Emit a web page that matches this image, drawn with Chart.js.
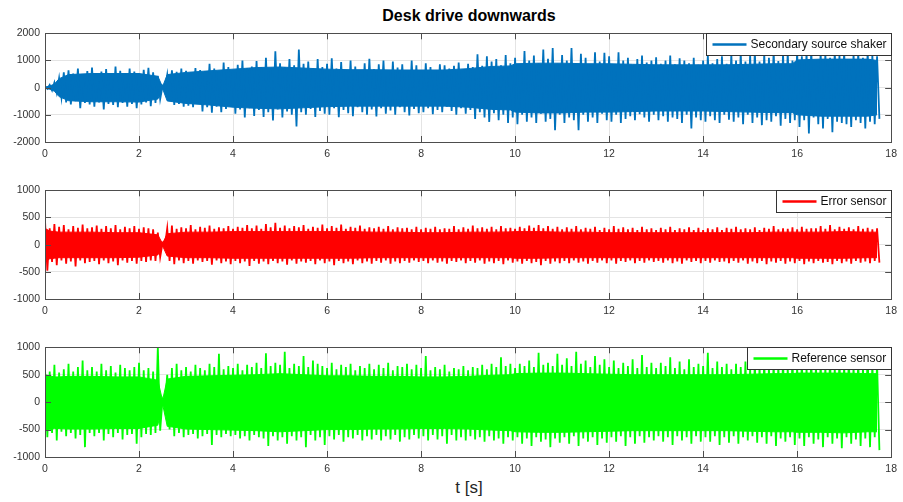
<!DOCTYPE html>
<html>
<head>
<meta charset="utf-8">
<script src="https://cdn.jsdelivr.net/npm/chart.js@4/dist/chart.umd.min.js"></script>
<style>
  body { margin:0; width:903px; height:502px; background:#fff; position:relative; overflow:hidden;
         font-family:"Liberation Sans", Arial, sans-serif; }
  canvas { position:absolute; left:0; }
  #title { position:absolute; top:7px; left:0; width:938px; text-align:center;
           font-weight:bold; font-size:16px; color:#000; }
  #xlabel { position:absolute; top:478px; left:0; width:938px; text-align:center;
            font-size:17px; color:#262626; }
</style>
</head>
<body>
<div id="title">Desk drive downwards</div>
<canvas id="c1" width="903" height="140" style="top:22px"></canvas>
<canvas id="c2" width="903" height="140" style="top:179px"></canvas>
<canvas id="c3" width="903" height="141" style="top:336px"></canvas>
<div id="xlabel">t [s]</div>
<script>
// Peak values are listed every 0.1 s: positive peak at t, negative peak at t + 0.05
const dt = 0.1;

// Axis ticks
const timeTicks = [0, 2, 4, 6, 8, 10, 12, 14, 16, 18];
const shakerTicks = [-2000, -1000, 0, 1000, 2000];
const sensorTicks = [-1000, -500, 0, 500, 1000];

// Times at which the solid core level of each trace is given
const coreTimes = [0, 0.1, 0.2, 0.3, 0.5, 1, 1.5, 2, 2.4, 2.5, 2.6, 3, 3.5, 4, 4.5, 5, 5.5, 6, 6.5, 7,
                   7.5, 8, 8.5, 9, 9.5, 9.9, 10, 10.5, 11, 11.5, 12, 12.5, 13, 13.5, 14, 14.5, 15, 15.5,
                   15.9, 16, 16.5, 17, 17.5, 17.7];

// ---- Secondary source shaker ----
const shakerHi = [
  40, 100, 190, 350, 560, 640, 520, 700, 480, 610,
  740, 530, 590, 680, 500, 780, 620, 540, 700, 590,
  520, 660, 730, 560, 430, 60, 470, 640, 580, 700,
  620, 560, 720, 650, 600, 880, 700, 620, 920, 760,
  660, 840, 1000, 720, 780, 980, 760, 1100, 700, 1340,
  900, 760, 1050, 820, 1400, 880, 960, 700, 1050, 760,
  880, 1080, 700, 940, 650, 1000, 780, 640, 900, 1060,
  680, 860, 1000, 620, 960, 740, 860, 640, 1000, 820,
  600, 900, 760, 640, 860, 820, 700, 800, 920, 660,
  880, 760, 1230, 800, 1150, 960, 1050, 820, 1200, 900,
  1100, 850, 1350, 1000, 1180, 900, 1400, 1060, 1460, 880,
  1200, 1000, 1460, 860, 1250, 1100, 800, 1300, 960, 1280,
  1150, 860, 1300, 1000, 1100, 800, 1050, 1180, 920, 1000,
  1120, 880, 1000, 1180, 860, 1080, 1000, 900, 1100, 840,
  1000, 1200, 900, 1050, 1150, 880, 1250, 1000, 1300, 960,
  1200, 1350, 960, 1250, 1100, 1350, 980, 1250, 1300, 1000,
  1350, 1150, 1300, 1400, 1000, 1300, 1250, 1100, 1350, 1200,
  1350, 1050, 1250, 1300, 1100, 1350, 1200, 1150
];
const shakerLo = [
  -40, -100, -190, -360, -540, -620, -500, -760, -560, -620,
  -700, -540, -800, -600, -640, -720, -560, -700, -600, -760,
  -620, -540, -680, -560, -420, -60, -480, -640, -600, -700,
  -660, -720, -600, -880, -720, -920, -700, -900, -780, -660,
  -960, -800, -1100, -760, -1040, -820, -1080, -900, -1210, -800,
  -1100, -880, -1000, -1430, -900, -1000, -780, -1080, -860, -960,
  -1000, -760, -1090, -820, -940, -1050, -720, -900, -1000, -800,
  -1060, -760, -960, -840, -1000, -720, -900, -1020, -780, -940,
  -900, -760, -980, -820, -900, -700, -860, -1000, -760, -960,
  -820, -1150, -900, -1100, -1260, -940, -1200, -1000, -1300, -1100,
  -1350, -1000, -1250, -1100, -1300, -960, -1250, -1150, -1570, -1000,
  -1300, -1100, -1200, -1570, -1000, -1250, -1100, -1300, -960, -1200,
  -1250, -1000, -1300, -1150, -1050, -1200, -980, -1100, -1250, -1000,
  -1200, -1050, -1250, -1100, -1150, -1300, -1000, -1500, -1100, -1200,
  -1250, -1050, -1200, -1300, -1000, -1180, -1250, -1100, -1350, -1000,
  -1300, -1100, -1380, -1200, -1250, -1050, -1400, -1150, -1300, -1200,
  -1450, -1200, -1690, -1100, -1350, -1500, -1150, -1640, -1250, -1300,
  -1350, -1450, -1200, -1300, -1500, -1250, -1350, -1150
];
const shakerCoreHi = [20, 60, 130, 330, 480, 520, 520, 520, 420, 30, 480, 560, 620, 680, 740, 760, 720, 680, 660, 660,
                      650, 650, 650, 700, 780, 800, 880, 900, 900, 880, 880, 860, 840, 840, 840, 840, 860, 880,
                      880, 1020, 1050, 1050, 1050, 1000];
const shakerCoreLo = [-20, -60, -130, -330, -480, -520, -520, -530, -420, -30, -490, -580, -640, -720, -760, -780, -740, -700, -680, -680,
                      -680, -680, -680, -720, -800, -820, -900, -930, -930, -900, -900, -880, -860, -860, -860, -880, -900, -920,
                      -920, -1000, -1050, -1050, -1050, -1000];

// ---- Error sensor ----
const errorHi = [
  450, 300, 380, 330, 360, 280, 340, 310, 370, 300,
  320, 350, 290, 340, 300, 360, 280, 330, 300, 340,
  290, 320, 300, 280, 220, 30, 300, 350, 290, 320,
  300, 360, 280, 330, 310, 350, 290, 320, 300, 340,
  290, 330, 310, 360, 300, 350, 290, 380, 320, 400,
  310, 350, 300, 340, 320, 360, 290, 330, 310, 370,
  300, 340, 310, 370, 290, 330, 310, 350, 290, 320,
  300, 330, 290, 340, 280, 320, 300, 310, 280, 330,
  280, 310, 290, 330, 280, 300, 290, 340, 280, 320,
  290, 350, 300, 320, 290, 330, 280, 340, 300, 310,
  290, 330, 300, 350, 310, 360, 300, 340, 290, 330,
  280, 320, 290, 340, 280, 310, 290, 330, 270, 310,
  280, 340, 290, 320, 280, 310, 270, 330, 280, 300,
  270, 310, 280, 330, 270, 300, 280, 320, 270, 310,
  270, 300, 280, 320, 270, 310, 290, 330, 280, 300,
  280, 320, 270, 310, 290, 340, 280, 300, 290, 320,
  280, 330, 290, 300, 300, 340, 290, 360, 280, 330,
  290, 320, 280, 340, 290, 310, 280, 300
];
const errorLo = [
  -480, -320, -380, -290, -350, -310, -400, -290, -340, -320,
  -300, -360, -290, -340, -310, -380, -290, -330, -300, -350,
  -300, -320, -290, -300, -230, -30, -300, -360, -290, -340,
  -300, -350, -290, -320, -300, -370, -290, -340, -310, -360,
  -300, -340, -310, -390, -300, -350, -310, -360, -300, -340,
  -310, -370, -290, -350, -310, -330, -300, -360, -290, -340,
  -310, -380, -300, -340, -310, -360, -290, -340, -310, -350,
  -300, -330, -290, -350, -310, -340, -300, -330, -290, -320,
  -300, -340, -290, -330, -310, -350, -300, -320, -290, -340,
  -300, -330, -290, -350, -310, -340, -300, -360, -290, -330,
  -310, -350, -300, -340, -320, -380, -300, -350, -310, -340,
  -300, -340, -290, -330, -310, -350, -300, -330, -290, -340,
  -290, -350, -300, -320, -290, -340, -300, -330, -290, -320,
  -300, -330, -290, -340, -310, -350, -290, -320, -300, -340,
  -300, -330, -290, -320, -310, -340, -300, -330, -290, -350,
  -310, -340, -300, -360, -310, -330, -300, -350, -310, -340,
  -300, -360, -310, -340, -300, -330, -320, -360, -300, -340,
  -310, -350, -300, -330, -310, -340, -300, -330
];
const errorCoreHi = [300, 250, 240, 230, 230, 230, 220, 220, 180, 20, 200, 230, 230, 240, 240, 240, 240, 240, 240, 230,
                     230, 220, 220, 230, 230, 235, 240, 240, 230, 230, 220, 220, 220, 220, 220, 220, 220, 230,
                     230, 230, 230, 240, 230, 230];
const errorCoreLo = [-320, -260, -250, -240, -240, -240, -240, -230, -190, -20, -210, -240, -240, -250, -250, -250, -250, -250, -250, -240,
                     -240, -240, -240, -240, -240, -240, -250, -250, -240, -240, -240, -240, -240, -240, -240, -240, -240, -240,
                     -240, -250, -250, -250, -240, -240];

// ---- Reference sensor ----
const refHi = [
  620, 560, 680, 540, 600, 700, 560, 640, 760, 580,
  640, 560, 700, 580, 660, 540, 680, 620, 580, 640,
  720, 580, 620, 560, 1000, 50, 500, 620, 700, 580,
  640, 560, 680, 620, 580, 700, 640, 880, 600, 660,
  620, 700, 580, 680, 640, 720, 620, 890, 660, 720,
  680, 920, 620, 700, 660, 840, 640, 760, 700, 660,
  620, 720, 600, 680, 640, 700, 580, 660, 620, 700,
  600, 680, 620, 720, 580, 660, 640, 700, 600, 680,
  620, 840, 580, 640, 600, 680, 560, 620, 600, 660,
  580, 640, 620, 680, 600, 700, 640, 820, 660, 700,
  620, 700, 660, 760, 640, 900, 680, 720, 660, 880,
  680, 800, 660, 920, 700, 760, 640, 840, 680, 780,
  640, 760, 620, 720, 660, 780, 620, 860, 640, 720,
  620, 720, 660, 820, 620, 740, 600, 780, 640, 700,
  660, 900, 620, 740, 640, 700, 600, 700, 640, 740,
  620, 740, 660, 760, 640, 720, 680, 780, 640, 800,
  660, 760, 640, 800, 680, 740, 660, 820, 640, 780,
  680, 800, 660, 760, 640, 880, 700, 720
];
const refLo = [
  -640, -560, -700, -540, -620, -560, -660, -600, -820, -560,
  -620, -560, -700, -580, -640, -560, -680, -600, -580, -760,
  -640, -580, -600, -560, -520, -60, -500, -620, -560, -640,
  -600, -580, -660, -620, -580, -780, -600, -640, -580, -620,
  -600, -660, -620, -700, -600, -640, -660, -800, -620, -700,
  -640, -760, -620, -700, -640, -820, -600, -700, -640, -780,
  -620, -680, -600, -720, -640, -660, -600, -700, -620, -680,
  -600, -700, -620, -680, -600, -720, -640, -680, -600, -660,
  -620, -700, -600, -680, -620, -760, -600, -700, -640, -700,
  -620, -680, -640, -720, -620, -700, -660, -760, -640, -700,
  -640, -760, -660, -800, -640, -720, -680, -820, -660, -740,
  -640, -760, -620, -800, -660, -720, -640, -780, -660, -740,
  -640, -720, -620, -800, -640, -760, -620, -740, -640, -700,
  -620, -720, -640, -780, -620, -700, -640, -760, -620, -720,
  -640, -720, -620, -780, -640, -740, -620, -760, -640, -700,
  -620, -740, -640, -760, -620, -800, -660, -720, -640, -780,
  -660, -800, -640, -760, -680, -820, -640, -760, -660, -840,
  -640, -760, -680, -800, -660, -820, -640, -875
];
const refCoreHi = [500, 480, 460, 460, 470, 470, 460, 460, 400, 30, 420, 470, 480, 490, 500, 520, 500, 480, 480, 470,
                   470, 460, 460, 470, 490, 500, 520, 530, 530, 520, 510, 500, 500, 500, 500, 500, 510, 520,
                   520, 530, 530, 530, 520, 520];
const refCoreLo = [-520, -500, -480, -480, -490, -490, -480, -480, -420, -30, -440, -490, -500, -510, -520, -540, -520, -500, -500, -490,
                   -490, -480, -480, -490, -510, -520, -540, -550, -550, -540, -530, -520, -520, -520, -520, -520, -530, -540,
                   -540, -550, -550, -560, -540, -540];

const FONT = '"Liberation Sans", Arial, sans-serif';

// Interleave positive and negative peaks into one oscillating trace
function trace(hi, lo) {
  const pts = [];
  hi.forEach((v, i) => {
    pts.push({ x: i * dt, y: v });
    pts.push({ x: i * dt + dt / 2, y: lo[i] });
  });
  return pts;
}
const core = vals => vals.map((v, i) => ({ x: coreTimes[i], y: v }));

// Box outline with inward tick marks on all four sides
const framePlugin = {
  id: 'frame',
  afterDatasetsDraw(chart) {
    const { ctx, chartArea: a, scales: { x, y } } = chart;
    ctx.save();
    ctx.strokeStyle = '#4d4d4d';
    ctx.lineWidth = 1;
    ctx.beginPath();
    x.ticks.forEach(t => {
      const px = Math.round(x.getPixelForValue(t.value)) + 0.5;
      ctx.moveTo(px, a.top); ctx.lineTo(px, a.top + 6);
      ctx.moveTo(px, a.bottom); ctx.lineTo(px, a.bottom - 6);
    });
    y.ticks.forEach(t => {
      const py = Math.round(y.getPixelForValue(t.value)) + 0.5;
      ctx.moveTo(a.left, py); ctx.lineTo(a.left + 6, py);
      ctx.moveTo(a.right, py); ctx.lineTo(a.right - 6, py);
    });
    ctx.stroke();
    ctx.strokeRect(Math.round(a.left) + 0.5, Math.round(a.top) + 0.5,
                   Math.round(a.right - a.left), Math.round(a.bottom - a.top));
    ctx.restore();
  }
};

// Legend box in the upper-right corner of the axes
const cornerLegend = {
  id: 'cornerLegend',
  afterDatasetsDraw(chart) {
    const { ctx, chartArea: a } = chart;
    const ds = chart.data.datasets[0];
    ctx.save();
    ctx.font = '12px ' + FONT;
    const tw = ctx.measureText(ds.label).width;
    const w = Math.round(6 + 34 + 4 + tw + 5), h = 22;
    const x0 = Math.round(a.right) - w + 0.5, y0 = Math.round(a.top) + 0.5;
    ctx.fillStyle = '#fff';
    ctx.fillRect(x0, y0, w, h);
    ctx.strokeStyle = '#333';
    ctx.lineWidth = 1;
    ctx.strokeRect(x0, y0, w, h);
    ctx.strokeStyle = ds.borderColor;
    ctx.lineWidth = 2.5;
    ctx.beginPath();
    ctx.moveTo(x0 + 6, y0 + h / 2);
    ctx.lineTo(x0 + 40, y0 + h / 2);
    ctx.stroke();
    ctx.fillStyle = '#111';
    ctx.textBaseline = 'middle';
    ctx.fillText(ds.label, x0 + 44, y0 + h / 2 + 0.5);
    ctx.restore();
  }
};

function makePanel(id, label, color, hi, lo, coreHi, coreLo, yTicks) {
  new Chart(document.getElementById(id), {
    type: 'line',
    data: {
      datasets: [
        { label, data: trace(hi, lo), borderColor: color, borderWidth: 1.8,
          pointRadius: 0, tension: 0, fill: false, borderJoinStyle: 'miter' },
        { label: label + ' core', data: core(coreHi), borderColor: color, backgroundColor: color,
          borderWidth: 1, pointRadius: 0, tension: 0, fill: '+1' },
        { label: label + ' core lower', data: core(coreLo), borderColor: color, backgroundColor: color,
          borderWidth: 1, pointRadius: 0, tension: 0, fill: false }
      ]
    },
    options: {
      responsive: false,
      animation: false,
      devicePixelRatio: 1,
      layout: { padding: { top: 8, right: 10, left: 0, bottom: 0 } },
      plugins: { legend: { display: false }, tooltip: { enabled: false } },
      scales: {
        x: {
          type: 'linear', min: 0, max: 18,
          afterBuildTicks: s => { s.ticks = timeTicks.map(v => ({ value: v })); },
          afterFit: s => { s.height = 20; },
          ticks: { color: '#333', font: { family: FONT, size: 10.5 }, padding: 6,
                   maxRotation: 0, autoSkip: false, callback: v => String(v) },
          grid: { color: '#e4e4e4', drawTicks: false },
          border: { display: false }
        },
        y: {
          min: yTicks[0], max: yTicks[yTicks.length - 1],
          afterBuildTicks: s => { s.ticks = yTicks.map(v => ({ value: v })); },
          afterFit: s => { s.width = 45; },
          ticks: { color: '#333', font: { family: FONT, size: 10.5 }, padding: 5,
                   autoSkip: false, callback: v => String(v) },
          grid: { color: '#e4e4e4', drawTicks: false },
          border: { display: false }
        }
      }
    },
    plugins: [framePlugin, cornerLegend]
  });
}

makePanel('c1', 'Secondary source shaker', '#0072BD', shakerHi, shakerLo, shakerCoreHi, shakerCoreLo, shakerTicks);
makePanel('c2', 'Error sensor', '#FF0000', errorHi, errorLo, errorCoreHi, errorCoreLo, sensorTicks);
makePanel('c3', 'Reference sensor', '#00FF00', refHi, refLo, refCoreHi, refCoreLo, sensorTicks);
</script>
</body>
</html>
